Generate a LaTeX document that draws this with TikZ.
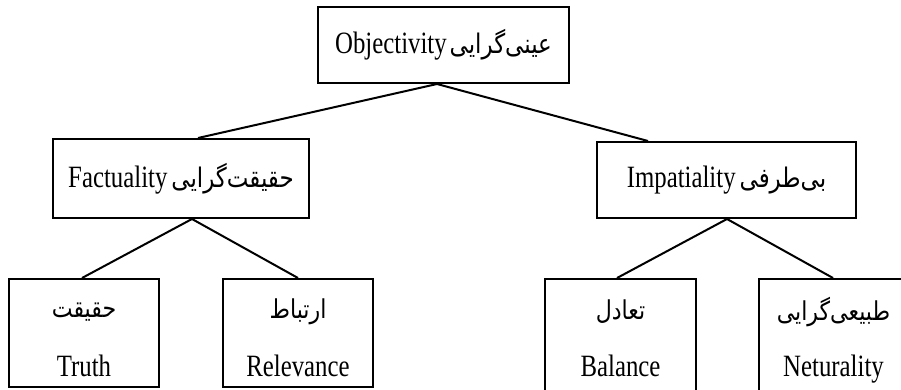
\documentclass[tikz,border=0pt]{standalone}
\usepackage{fontspec}
\setmainfont[FakeStretch=0.8]{Liberation Serif}
\newfontfamily\fa[Script=Arabic,FakeStretch=0.85]{DejaVu Sans}
\TeXXeTstate=1
\begin{document}
\begin{tikzpicture}[x=1pt,y=1pt,
  box/.style={draw=black, line width=2pt, rectangle, inner sep=0pt},
  conn/.style={draw=black, line width=2pt},
  lat/.style={inner sep=0pt, font=\fontsize{31}{36}\selectfont},
  far/.style={inner sep=0pt, font=\fa\fontsize{26}{32}\selectfont}]
\useasboundingbox (0,0) rectangle (901,389);
\clip (0,0) rectangle (901,389);
% boxes
\node[box, minimum width=251pt, minimum height=76pt, lat] (top) at (443.5,344)
  {Objectivity\hspace{3pt}{\fa\fontsize{27}{32}\selectfont\beginR عینی‌گرایی\endR}};
\node[box, minimum width=256pt, minimum height=79pt, lat] (fact) at (181,210.5)
  {Factuality\hspace{4pt}{\fa\fontsize{27}{32}\selectfont\beginR حقیقت‌گرایی\endR}};
\node[box, minimum width=259pt, minimum height=76pt, lat] (imp) at (726.5,209)
  {Impatiality\hspace{4pt}{\fa\fontsize{27}{32}\selectfont\beginR بی‌طرفی\endR}};
\node[box, minimum width=150pt, minimum height=108pt] (truth) at (84,56) {};
\node[box, minimum width=150pt, minimum height=108pt] (rel) at (298,56) {};
\node[box, minimum width=151pt, minimum height=112pt] (bal) at (620.5,54) {};
\node[box, minimum width=150pt, minimum height=112pt] (neut) at (834,54) {};
% labels in bottom boxes
\node[far] (truthA) at (84,77) {\beginR حقیقت\endR};
\node[lat, anchor=base] (truthL) at (84,13) {Truth};
\node[far] (relA) at (298,77) {\beginR ارتباط\endR};
\node[lat, anchor=base] (relL) at (298,13) {Relevance};
\node[far] (balA) at (620.5,77) {\beginR تعادل\endR};
\node[lat, anchor=base] (balL) at (620.5,13) {Balance};
\node[far] (neutA) at (833.5,77) {\beginR طبیعی‌گرایی\endR};
\node[lat, anchor=base] (neutL) at (833.5,13) {Neturality};
% connectors
\draw[conn] ([xshift=17pt]fact.north) -- ([xshift=-6.5pt]top.south) -- ([xshift=-78.5pt]imp.north);
\draw[conn] ([xshift=-2pt]truth.north) -- ([xshift=11pt]fact.south) -- (rel.north);
\draw[conn] ([xshift=-3.5pt]bal.north) -- ([xshift=0.5pt]imp.south) -- ([xshift=-1pt]neut.north);
\end{tikzpicture}
\end{document}
